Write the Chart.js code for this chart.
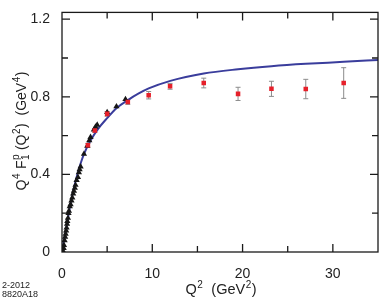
<!DOCTYPE html>
<html>
<head>
<meta charset="utf-8">
<script src="https://cdn.jsdelivr.net/npm/chart.js@4.4.1/dist/chart.umd.min.js"></script>
<style>
  html, body { margin: 0; padding: 0; background: #fff; }
  #wrap { width: 382px; height: 306px; }
</style>
</head>
<body>
<div id="wrap"><canvas id="chart" width="382" height="306"></canvas></div>
<script>
// values
// black triangles (low Q2 data)
const triQ2 = [0.12, 0.18, 0.22, 0.29, 0.35, 0.4, 0.46, 0.51, 0.56, 0.59, 0.66, 0.72, 0.77, 0.86, 0.95, 1.05, 1.14, 1.24, 1.32, 1.42, 1.5, 1.62, 1.77, 1.87, 1.95, 2.06, 2.43, 2.8, 3.02, 3.16, 3.53, 3.71, 3.9, 5.0, 6.03, 7.03];
const triVal = [0.005, 0.02, 0.035, 0.06, 0.078, 0.093, 0.11, 0.125, 0.145, 0.159, 0.175, 0.2, 0.212, 0.235, 0.245, 0.265, 0.28, 0.3, 0.315, 0.33, 0.345, 0.37, 0.385, 0.41, 0.425, 0.44, 0.505, 0.547, 0.575, 0.592, 0.63, 0.645, 0.655, 0.72, 0.75, 0.787];

// red squares with error bars
const sqQ2 = [2.87, 3.64, 5.0, 7.29, 9.6, 11.97, 15.7, 19.5, 23.2, 27.0, 31.2];
const sqVal = [0.55, 0.626, 0.712, 0.773, 0.808, 0.854, 0.871, 0.815, 0.841, 0.84, 0.871];
const sqErr = [0.01, 0.01, 0.012, 0.012, 0.019, 0.015, 0.025, 0.034, 0.039, 0.05, 0.079];

// blue curve
const fitQ2 = [0, 0.2, 0.4, 0.95, 1.5, 2.06, 2.43, 3.16, 4.0, 5.0, 6.0, 7.3, 8.5, 9.6, 12.0, 15.7, 19.5, 23.2, 27.0, 31.2, 35.0];
const fitVal = [0, 0.055, 0.105, 0.25, 0.365, 0.456, 0.505, 0.575, 0.635, 0.69, 0.74, 0.783, 0.817, 0.843, 0.882, 0.92, 0.942, 0.958, 0.97, 0.98, 0.99];

// axis ticks
const xTicks = [0, 10, 20, 30];
const xMinor = [5, 15, 25];
const yTicks = [0, 0.4, 0.8, 1.2];
const yMinor = [0.2, 0.6, 1.0];

const FONT = '"Liberation Sans", Arial, Helvetica, sans-serif';

function pts(xs, ys) {
    return xs.map((x, i) => ({ x: x, y: ys[i] }));
}

// draws a string made of pieces with sup/sub scripts
function drawRich(ctx, parts, x, y, size) {
    const small = Math.round(size * 0.7);
    let w = 0;
    const measure = (t, s) => { ctx.font = s + 'px ' + FONT; return ctx.measureText(t).width; };
    parts.forEach(p => {
        if (p.stack) w += Math.max(measure(p.sub, small), measure(p.sup, small)) + 1;
        else w += measure(p.t, p.sup || p.sub ? small : size) + (p.sup || p.sub ? 1 : 0);
    });
    let cx = x - w / 2;
    ctx.textAlign = 'left';
    ctx.textBaseline = 'alphabetic';
    parts.forEach(p => {
        if (p.stack) {
            ctx.font = small + 'px ' + FONT;
            ctx.fillText(p.sub, cx + 0.5, y + 3);
            ctx.fillText(p.sup, cx + 0.5, y - 7);
            cx += Math.max(ctx.measureText(p.sub).width, ctx.measureText(p.sup).width) + 1;
        } else if (p.sup || p.sub) {
            ctx.font = small + 'px ' + FONT;
            ctx.fillText(p.t, cx + 0.5, y + (p.sup ? -6 : 3));
            cx += ctx.measureText(p.t).width + 1;
        } else {
            ctx.font = size + 'px ' + FONT;
            ctx.fillText(p.t, cx, y);
            cx += ctx.measureText(p.t).width;
        }
    });
}

const framePlugin = {
    id: 'frame',
    beforeDatasetsDraw(chart) {
        // error bars under the squares
        const ctx = chart.ctx;
        const xs = chart.scales.x, ys = chart.scales.y;
        ctx.save();
        ctx.strokeStyle = '#8c8c8c';
        ctx.lineWidth = 1;
        sqQ2.forEach((q, i) => {
            const px = xs.getPixelForValue(q);
            const top = ys.getPixelForValue(sqVal[i] + sqErr[i]);
            const bot = ys.getPixelForValue(sqVal[i] - sqErr[i]);
            ctx.beginPath();
            ctx.moveTo(px, top); ctx.lineTo(px, bot);
            ctx.moveTo(px - 2.5, top); ctx.lineTo(px + 2.5, top);
            ctx.moveTo(px - 2.5, bot); ctx.lineTo(px + 2.5, bot);
            ctx.stroke();
        });
        ctx.restore();
    },
    afterDraw(chart) {
        const ctx = chart.ctx;
        const a = chart.chartArea;
        const xs = chart.scales.x, ys = chart.scales.y;
        ctx.save();
        ctx.strokeStyle = '#1a1a1a';
        ctx.lineWidth = 1.3;
        ctx.strokeRect(a.left, a.top, a.right - a.left, a.bottom - a.top);

        ctx.beginPath();
        const tick = (vals, len) => {
            vals.forEach(v => {
                const px = xs.getPixelForValue(v);
                ctx.moveTo(px, a.bottom); ctx.lineTo(px, a.bottom - len);
                ctx.moveTo(px, a.top); ctx.lineTo(px, a.top + len);
            });
        };
        const tickY = (vals, len) => {
            vals.forEach(v => {
                const py = ys.getPixelForValue(v);
                ctx.moveTo(a.left, py); ctx.lineTo(a.left + len, py);
                ctx.moveTo(a.right, py); ctx.lineTo(a.right - len, py);
            });
        };
        tick(xTicks.slice(1), 8);
        tick(xMinor, 6);
        tickY(yTicks.slice(1), 8);
        tickY(yMinor, 6);
        ctx.stroke();

        // axis titles
        ctx.fillStyle = '#222';
        drawRich(ctx, [
            { t: 'Q' }, { t: '2', sup: true }, { t: '  (GeV' }, { t: '2', sup: true }, { t: ')' }
        ], 221, 294, 14.5);

        ctx.save();
        ctx.translate(26, 131);
        ctx.rotate(-Math.PI / 2);
        drawRich(ctx, [
            { t: 'Q' }, { t: '4', sup: true }, { t: ' F' }, { stack: true, sub: '1', sup: 'p' },
            { t: ' (Q' }, { t: '2', sup: true }, { t: ')  (GeV' }, { t: '4', sup: true }, { t: ')' }
        ], 0, 0, 14);
        ctx.restore();

        // figure code
        ctx.font = '9px ' + FONT;
        ctx.textAlign = 'left';
        ctx.fillText('2-2012', 2, 288);
        ctx.fillText('8820A18', 2, 297);
        ctx.restore();
    }
};

const ctx = document.getElementById('chart').getContext('2d');
new Chart(ctx, {
    type: 'scatter',
    data: {
        datasets: [
            {
                label: 'squares',
                data: pts(sqQ2, sqVal),
                pointStyle: 'rect',
                pointRadius: 3.2,
                backgroundColor: '#e6202a',
                borderColor: '#e6202a',
                borderWidth: 0
            },
            {
                label: 'triangles',
                data: pts(triQ2, triVal),
                pointStyle: 'triangle',
                pointRadius: 3.6,
                backgroundColor: '#161616',
                borderColor: '#161616',
                borderWidth: 0
            },
            {
                label: 'fit',
                type: 'line',
                data: pts(fitQ2, fitVal),
                showLine: true,
                pointRadius: 0,
                borderColor: '#3a3d9c',
                borderWidth: 2,
                cubicInterpolationMode: 'monotone',
                fill: false
            }
        ]
    },
    options: {
        responsive: false,
        animation: false,
        layout: { padding: { top: 3, right: 2, left: 0, bottom: 0 } },
        plugins: { legend: { display: false }, tooltip: { enabled: false } },
        scales: {
            x: {
                type: 'linear',
                min: 0,
                max: 35,
                grid: { display: false },
                border: { display: false },
                afterFit(s) { s.height = 54; },
                afterBuildTicks(s) { s.ticks = xTicks.map(v => ({ value: v })); },
                ticks: {
                    padding: 6,
                    color: '#222',
                    font: { family: FONT, size: 14 },
                    callback: v => String(v)
                }
            },
            y: {
                type: 'linear',
                min: 0,
                max: 1.235,
                grid: { display: false },
                border: { display: false },
                afterFit(s) { s.width = 62; },
                afterBuildTicks(s) { s.ticks = yTicks.map(v => ({ value: v })); },
                ticks: {
                    padding: 4,
                    color: '#222',
                    font: { family: FONT, size: 14 },
                    callback: v => (v === 0 ? '0' : v.toFixed(1))
                }
            }
        }
    },
    plugins: [framePlugin]
});
</script>
</body>
</html>
